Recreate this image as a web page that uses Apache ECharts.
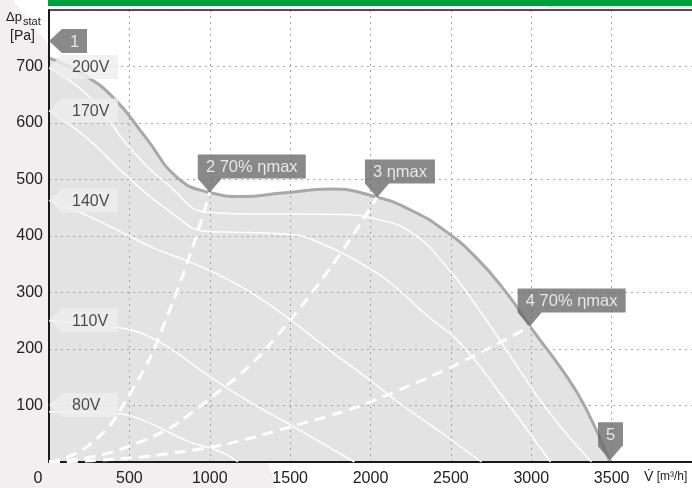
<!DOCTYPE html>
<html>
<head>
<meta charset="utf-8">
<script src="https://cdn.jsdelivr.net/npm/echarts@6/dist/echarts.min.js"></script>
<style>
  html, body { margin: 0; padding: 0; background: #fff; }
  #chart { width: 692px; height: 488px; }
</style>
</head>
<body>
<div id="chart"></div>
<script>
// axes
const xMax = 4000, xStep = 500;
const yMax = 800, yStep = 100;

// outer operating envelope [m3/h, Pa]
const envelope = [[0,715],[200,688],[400,645],[600,575],[800,503],[1000,477],[1200,470],[1450,476],[1750,483],[2050,468],[2250,446],[2450,412],[2650,364],[2850,298],[3000,237],[3200,160],[3340,95],[3490,0]];

// speed curves
const speedNames = ['200V', '170V', '140V', '110V', '80V'];
const speedLabelY = [699, 622, 463, 251, 101];
const v200 = [[0,697],[250,647],[500,557],[740,491],[990,442],[1240,439],[1500,439],[1800,438],[2050,429],[2260,405],[2460,350],[2670,272],[2880,183],[3100,92],[3374,0]];
const v170 = [[0,622],[250,570],[500,502],[740,446],[990,408],[1240,406],[1490,403],[1740,381],[1990,343],[2150,311],[2360,257],[2545,214],[2800,124],[3120,0]];
const v140 = [[0,463],[200,441],[430,410],[650,379],[865,355],[1050,332],[1250,301],[1500,252],[1740,199],[1990,146],[2200,100],[2450,50],[2690,0]];
const v110 = [[0,250],[250,244],[450,237],[600,225],[780,196],[1000,151],[1250,106],[1500,66],[1700,33],[1900,0]];
const v80 = [[0,89],[250,88],[450,85],[600,72],[870,36],[1000,25],[1100,14],[1175,0]];
const speedCurves = [v200, v170, v140, v110, v80];

// system curves (dashed)
const sys2 = [[0,0],[250,30],[500,119],[750,268],[1000,477]];
const sys3 = [[0,0],[500,28],[1000,112],[1500,251],[2040,468]];
const sys4 = [[0,0],[750,15],[1500,62],[2250,136],[2990,240]];

// numbered operating points
const pointText = ['1', '2 70% ηmax', '3 ηmax', '4 70% ηmax', '5'];
const pointAt = [[0,745],[1000,477],[2040,468],[2990,240],[3490,3]];

const FONT = '"Liberation Sans", Arial, sans-serif';
const ctx = document.createElement('canvas').getContext('2d');
const textWidth = (t, size) => { ctx.font = size + 'px ' + FONT; return ctx.measureText(t).width; };

// callout with pointer at bottom-left
function downCallout(text, at) {
  const W = Math.round(textWidth(text, 16.5) + 16), H = 24, P = 14;
  return {
    name: text,
    value: at,
    symbol: `path://M0,0L${W},0L${W},${H}L24,${H}L12,${H + P}L0,${H}Z`,
    symbolSize: [W, H + P],
    symbolOffset: [W / 2 - 12, -(H + P) / 2],
    itemStyle: { color: '#6b6b6b' },
    label: { position: [W / 2, H / 2 + 1], align: 'center', verticalAlign: 'middle', color: '#fff' }
  };
}
// callout with pointer on the left
function leftCallout(text, at, bodyW, fill, color, centered) {
  const H = 24, P = 13;
  return {
    name: text,
    value: at,
    symbol: `path://M0,${H / 2}L${P},0L${P + bodyW},0L${P + bodyW},${H}L${P},${H}Z`,
    symbolSize: [P + bodyW, H],
    symbolOffset: [(P + bodyW) / 2, 0],
    itemStyle: { color: fill },
    label: {
      position: centered ? [P + bodyW / 2, H / 2 + 1] : [P + 10, H / 2 + 1],
      align: centered ? 'center' : 'left', verticalAlign: 'middle', color: color
    }
  };
}

const callouts = pointText.map((t, i) => i === 0
  ? leftCallout(t, pointAt[i], Math.round(textWidth(t, 16.5) + 16), '#6b6b6b', '#fff', true)
  : downCallout(t, pointAt[i]));
const speedTags = speedNames.map((n, i) => leftCallout(n, [0, speedLabelY[i]], 56, '#eeeeee', '#222', false));

const lineBase = { type: 'line', showSymbol: false, silent: true, smooth: 0.5 };

const chart = echarts.init(document.getElementById('chart'));
chart.setOption({
  animation: false,
  grid: { left: 49, right: -3, top: 10, bottom: 26 },
  xAxis: [
    {
      type: 'value', min: 0, max: xMax, interval: xStep,
      axisLine: { show: true, lineStyle: { color: '#1a1a1a', width: 2 } },
      axisTick: { show: false },
      axisLabel: {
        fontSize: 16, color: '#222', fontFamily: FONT, margin: 9, showMaxLabel: false,
        formatter: v => v === 0 ? '{z|0}' : String(v),
        rich: { z: { fontSize: 16, color: '#222', fontFamily: FONT, padding: [0, 22, 0, 0] } }
      },
      splitLine: { show: true, lineStyle: { color: '#a5a5a5', width: 1, type: [2, 4] } }
    },
    {
      type: 'value', position: 'top', min: 0, max: xMax,
      axisLine: { show: true, lineStyle: { color: '#1a1a1a', width: 1.5 } },
      axisTick: { show: false }, axisLabel: { show: false }, splitLine: { show: false }
    }
  ],
  yAxis: {
    type: 'value', min: 0, max: yMax, interval: yStep,
    axisLine: { show: true, lineStyle: { color: '#1a1a1a', width: 2 } },
    axisTick: { show: false },
    axisLabel: { fontSize: 16, color: '#222', fontFamily: FONT, margin: 6, showMinLabel: false, showMaxLabel: false },
    splitLine: { show: true, lineStyle: { color: '#a5a5a5', width: 1, type: [2, 4] } }
  },
  graphic: [
    { type: 'polygon', z: -10, silent: true,
      shape: { points: [[0, 0], [13, 0], [48, 44], [48, 462], [268, 462], [276, 488], [0, 488]] },
      style: { fill: '#f1eff0' } },
    { type: 'rect', left: 48, top: 0, silent: true, shape: { width: 644, height: 6 }, style: { fill: '#009f3d' } },
    { type: 'rect', left: 548, top: 6, silent: true, shape: { width: 144, height: 2 }, style: { fill: '#e4e4e4' } },
    { type: 'text', left: 6, top: 11, silent: true, style: { text: 'Δp', font: '13px ' + FONT, fill: '#222' } },
    { type: 'text', left: 23, top: 16, silent: true, style: { text: 'stat', font: '11px ' + FONT, fill: '#222' } },
    { type: 'text', left: 10, top: 29, silent: true, style: { text: '[Pa]', font: '14px ' + FONT, fill: '#222' } },
    { type: 'text', left: 644, top: 470, silent: true,
      style: { text: '{v|V\u0307} {u|[m³/h]}', fill: '#222',
        rich: { v: { fontSize: 14, fontFamily: FONT, fill: '#222' }, u: { fontSize: 12, fontFamily: FONT, fill: '#222' } } } }
  ],
  series: [
    Object.assign({}, lineBase, {
      name: 'envelope', data: envelope, z: -1,
      lineStyle: { color: '#a8a8a8', width: 3 },
      areaStyle: { color: '#e3e3e3', opacity: 1 }
    }),
    ...speedCurves.map((d, i) => Object.assign({}, lineBase, {
      name: speedNames[i], data: d, z: 2,
      lineStyle: { color: '#ffffff', width: 1.5 }
    })),
    ...[sys2, sys3, sys4].map((d, i) => Object.assign({}, lineBase, {
      name: 'system ' + (i + 2), data: d, z: 3,
      lineStyle: { color: '#ffffff', width: 3, type: [11, 7] }
    })),
    {
      type: 'scatter', name: 'speed tags', data: speedTags, z: 4, silent: true,
      emphasis: { disabled: true },
      label: { show: true, formatter: '{b}', fontSize: 16, fontFamily: FONT }
    },
    {
      type: 'scatter', name: 'points', data: callouts, z: 5, silent: true,
      emphasis: { disabled: true },
      label: { show: true, formatter: '{b}', fontSize: 16.5, fontFamily: FONT }
    }
  ]
});
</script>
</body>
</html>
